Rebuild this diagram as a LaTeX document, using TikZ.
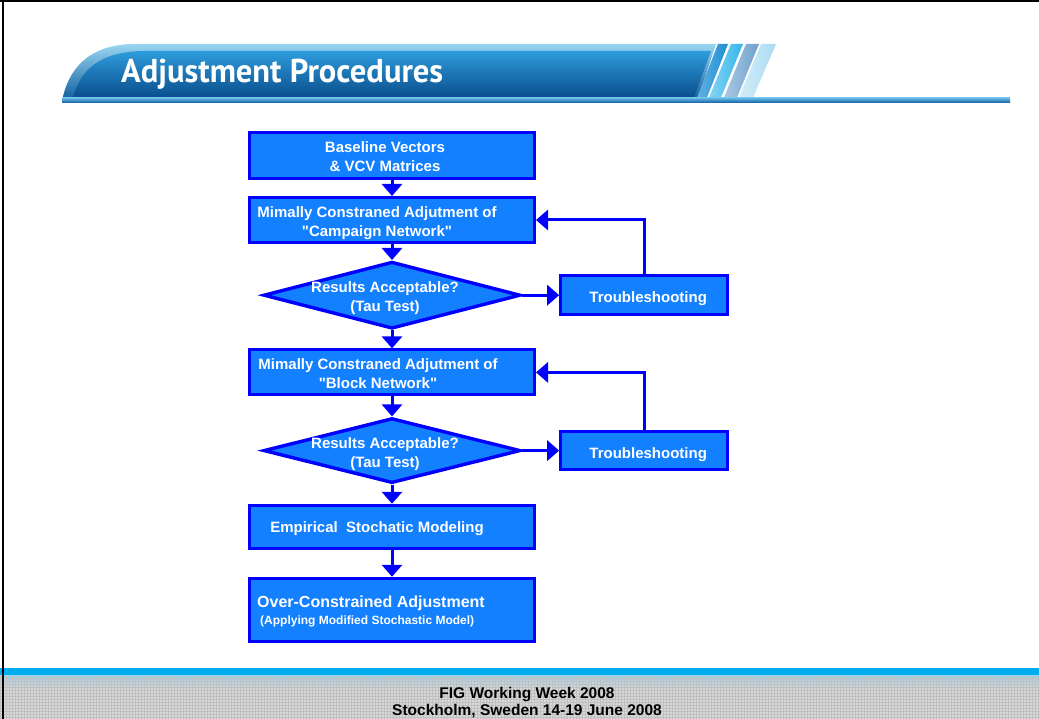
\documentclass[tikz,border=0pt]{standalone}
\usepackage{fontspec}
\setmainfont{Liberation Sans}[Ligatures=TeXOff]
\newfontfamily\titlefont{PT Sans}
\usepackage{graphicx}
\usepackage{xcolor}
\definecolor{FBlue}{HTML}{0000FF}
\definecolor{FFill}{HTML}{1380FF}
\definecolor{BanLight}{HTML}{9AD6F2}
\definecolor{BanDark}{HTML}{0D5C9C}
\definecolor{PanTop}{HTML}{2E9CDC}
\definecolor{PanMid}{HTML}{1280C8}
\definecolor{PanBot}{HTML}{0A4E8C}
\definecolor{RuleTop}{HTML}{6EC0EA}
\definecolor{RuleBot}{HTML}{1466AA}
\definecolor{StripeA}{HTML}{1E8FD3}
\definecolor{StripeB}{HTML}{35B6EA}
\definecolor{StripeC}{HTML}{6FA2CE}
\definecolor{StripeD}{HTML}{AADBF2}
\definecolor{FootCyan}{HTML}{00AEEF}
\definecolor{FootBlue}{HTML}{9ED2E8}
\definecolor{FootGray}{HTML}{D8D8D8}
\definecolor{FootGrid}{HTML}{C0C0C0}
\usepackage{tikz}
\usetikzlibrary{arrows.meta,positioning,shapes.geometric}
\tikzstyle{stepBox}=[rectangle, draw=FBlue, fill=FFill, line width=3pt, minimum width=285pt]
\tikzstyle{testNode}=[diamond, draw=FBlue, fill=FFill, line width=3.4pt, minimum width=257pt, inner sep=0pt]
\tikzstyle{fixNode}=[rectangle, draw=FBlue, fill=FFill, line width=3pt, minimum width=167pt]
\tikzstyle{boxText}=[text=white, font=\bfseries\fontsize{15}{19}\selectfont, align=center, inner sep=0pt]
\tikzstyle{footText}=[font=\bfseries\fontsize{15.5}{17}\selectfont, anchor=base, inner sep=0pt]
\tikzstyle{arr}=[-{Triangle[length=12pt,width=20pt]}, line width=3pt, draw=FBlue]

\begin{document}
\begin{tikzpicture}[x=1pt, y=-1pt, node distance=16pt]
\useasboundingbox (0,0) rectangle (1039,719);
\fill[white] (0,0) rectangle (1039,719);

% title banner
\shade[top color=BanLight, bottom color=BanDark] (62,101) .. controls (68,70) and (88,44) .. (135,44) -- (716,44) -- (697,101) -- cycle;
\shade[top color=PanTop, middle color=PanMid, bottom color=PanBot] (73,97) .. controls (80,72) and (98,51) .. (145,51) -- (711,51) -- (694,97) -- cycle;
\shade[left color=StripeA!70!white, right color=StripeA] (697,97.5) -- (718,44) -- (728,44) -- (707,97.5) -- cycle;
\shade[left color=StripeB!60!white, right color=StripeB] (709,97.5) -- (731,44) -- (743,44) -- (721,97.5) -- cycle;
\shade[left color=StripeC!60!white, right color=StripeC] (724,97.5) -- (746,44) -- (759,44) -- (737,97.5) -- cycle;
\shade[left color=StripeD!50!white, right color=StripeD] (739,97.5) -- (761,44) -- (776,44) -- (753,97.5) -- cycle;
\shade[top color=RuleTop, bottom color=RuleBot] (62,97.5) rectangle (1010,102.5);
\node[anchor=base west, inner sep=0pt, text=white] (title) at (121,83)
  {\resizebox{322pt}{\height}{\titlefont\bfseries\fontsize{33}{33}\selectfont Adjustment Procedures}};

% footer
\fill[FootCyan] (0,668) rectangle (1039,675.5);
\shade[top color=FootBlue, bottom color=FootGray] (0,675.5) rectangle (1039,690);
\fill[FootGray] (0,690) rectangle (1039,719);
\draw[FootGrid, line width=0.6pt, step=3pt] (0,675.5) grid (1039,719);
\node[footText] (week) at (527,698) {FIG Working Week 2008};
\node[footText] (venue) at (527,715) {Stockholm, Sweden 14-19 June 2008};

% slide frame
\draw[line width=2pt] (0,1) -- (1039,1);
\draw[line width=2pt] (2.5,0) -- (2.5,719);

% flow chart
\node[stepBox, minimum height=46pt] (base) at (392,155.5) {};
\node[stepBox, minimum height=45pt, below=of base] (camp) {};
\node[testNode, minimum height=67pt, below=of camp] (campTest) {};
\node[fixNode, minimum height=39pt, right=37pt of campTest] (campFix) {};
\node[stepBox, minimum height=45pt, below=18pt of campTest] (block) {};
\node[testNode, minimum height=65pt, below=20pt of block] (blockTest) {};
\node[fixNode, minimum height=38pt, right=37pt of blockTest] (blockFix) {};
\node[stepBox, minimum height=43pt, below=19pt of blockTest] (emp) {};
\node[stepBox, minimum height=63pt, below=27pt of emp] (over) {};

\node[boxText] (baseT) at ([shift={(-7,1.5)}]base.center) {Baseline Vectors\\\& VCV Matrices};
\node[boxText] (campT) at ([shift={(-15,3)}]camp.center) {Mimally Constraned Adjutment of\\"Campaign Network"};
\node[boxText] (campTestT) at ([shift={(-7,3)}]campTest.center) {Results Acceptable?\\(Tau Test)};
\node[boxText] (campFixT) at ([shift={(4,3)}]campFix.center) {Troubleshooting};
\node[boxText] (blockT) at ([shift={(-14,1.5)}]block.center) {Mimally Constraned Adjutment of\\"Block Network"};
\node[boxText] (blockTestT) at ([shift={(-7,3.5)}]blockTest.center) {Results Acceptable?\\(Tau Test)};
\node[boxText] (blockFixT) at ([shift={(4,4)}]blockFix.center) {Troubleshooting};
\node[boxText] (empT) at ([shift={(-15,2)}]emp.center) {Empirical\ \ Stochatic Modeling};
\node[boxText, align=left, anchor=west, font=\bfseries\fontsize{16}{17}\selectfont] (overT) at (257,611)
  {Over-Constrained Adjustment\\\hspace*{3pt}{\fontsize{12}{14}\selectfont (Applying Modified Stochastic Model)}};

\draw[arr] (base) -- (camp);
\draw[arr] (camp) -- (campTest);
\draw[arr] (campTest.east) -- (campFix.west);
\draw[arr] (campFix.north) |- (camp.east);
\draw[arr] (campTest) -- (block);
\draw[arr] (block) -- (blockTest);
\draw[arr] (blockTest.east) -- (blockFix.west);
\draw[arr] (blockFix.north) |- (block.east);
\draw[arr] (blockTest) -- (emp);
\draw[arr] (emp) -- (over);
\end{tikzpicture}
\end{document}
